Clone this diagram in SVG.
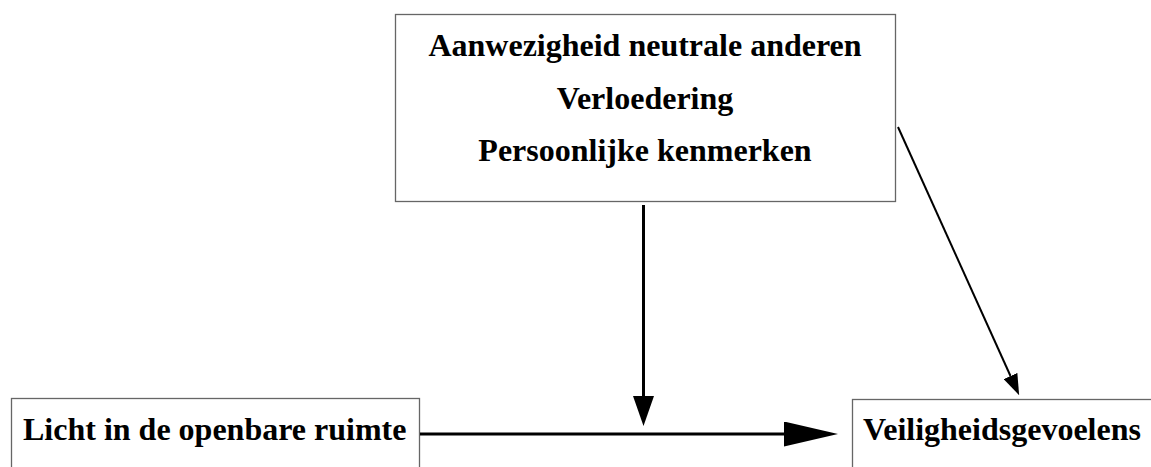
<svg xmlns="http://www.w3.org/2000/svg" width="1151" height="467" viewBox="0 0 1151 467">
<style>
.box{fill:#fff;stroke:#666;stroke-width:1.3}
.t{font-family:"Liberation Serif","Times New Roman",serif;font-weight:bold;font-size:32px;fill:#000}
.c{stroke:#000;fill:none}
</style>
<defs>
<marker id="ahBig" markerUnits="userSpaceOnUse" viewBox="0 0 54 25" refX="0" refY="12.5" markerWidth="54" markerHeight="25" orient="auto">
<path d="M0,0 L54,12.5 L0,25 z" fill="#000"/>
</marker>
<marker id="ahMid" markerUnits="userSpaceOnUse" viewBox="0 0 30 21" refX="0" refY="10.5" markerWidth="30" markerHeight="21" orient="auto">
<path d="M0,0 L30,10.5 L0,21 z" fill="#000"/>
</marker>
<marker id="ahSmall" markerUnits="userSpaceOnUse" viewBox="0 0 21 15" refX="0" refY="7.5" markerWidth="21" markerHeight="15" orient="auto">
<path d="M0,0 L21,7.5 L0,15 z" fill="#000"/>
</marker>
</defs>
<rect width="1151" height="467" fill="#fff"/>
<g id="node-factors">
<rect class="box" x="395.5" y="14.5" width="500" height="187"/>
<text class="t" x="645" y="56" text-anchor="middle">Aanwezigheid neutrale anderen</text>
<text class="t" x="645" y="108.5" text-anchor="middle">Verloedering</text>
<text class="t" x="645" y="161" text-anchor="middle">Persoonlijke kenmerken</text>
</g>
<g id="node-licht">
<rect class="box" x="11.5" y="398.5" width="408" height="100"/>
<text class="t" x="23" y="440">Licht in de openbare ruimte</text>
</g>
<g id="node-veiligheid">
<rect class="box" x="852.5" y="399.5" width="340" height="100"/>
<text class="t" x="863" y="440">Veiligheidsgevoelens</text>
</g>
<g id="connectors">
<line class="c" x1="420" y1="434" x2="784" y2="434" stroke-width="3" marker-end="url(#ahBig)"/>
<line class="c" x1="643.5" y1="205" x2="643.5" y2="396" stroke-width="3" marker-end="url(#ahMid)"/>
<line class="c" x1="898" y1="127" x2="1010.5" y2="376" stroke-width="2" marker-end="url(#ahSmall)"/>
</g>
</svg>
